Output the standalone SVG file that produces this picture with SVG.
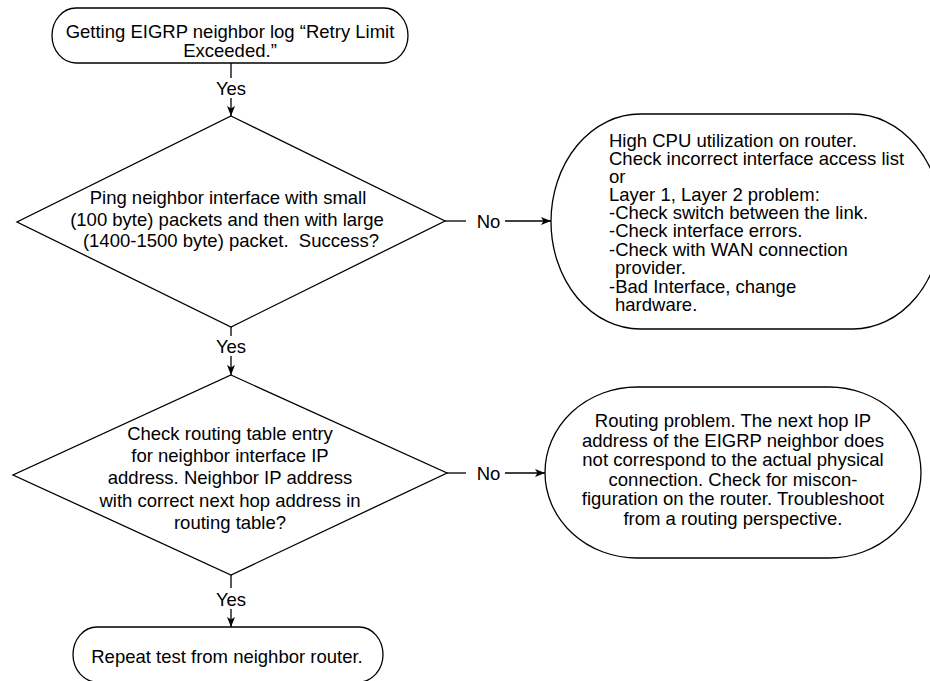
<svg xmlns="http://www.w3.org/2000/svg" width="930" height="681" viewBox="0 0 930 681">
<defs>
<marker id="arr" markerUnits="userSpaceOnUse" markerWidth="11" markerHeight="9" refX="10" refY="4" orient="auto">
<path d="M0,0 L10,4 L0,8 L2.5,4 z" fill="#000"/>
</marker>
<style>
.s{fill:#fff;stroke:#000;stroke-width:1.3}
.t{font-family:"Liberation Sans",Arial,Helvetica,sans-serif;font-size:18.5px;fill:#000}
.c{text-anchor:middle}
.l{fill:none;stroke:#000;stroke-width:1.3}
</style>
</defs>
<rect width="930" height="681" fill="#fff"/>
<g id="start">
<rect class="s" x="52" y="8" width="356" height="55" rx="24" ry="27.5"/>
<text class="t c" x="230" y="37.5">Getting EIGRP neighbor log “Retry Limit</text>
<text class="t c" x="230" y="56.5">Exceeded.”</text>
</g>
<g id="ping">
<polygon class="s" points="231,116 445,221 231,327 17,222"/>
<text class="t c" x="228" y="204">Ping neighbor interface with small</text>
<text class="t c" x="227" y="226">(100 byte) packets and then with large</text>
<text class="t c" x="231" y="247" xml:space="preserve">(1400-1500 byte) packet.  Success?</text>
</g>
<g id="cpu">
<rect class="s" x="551" y="114" width="391" height="215" rx="89" ry="107.5"/>
<text class="t" x="609" y="146.5">High CPU utilization on router.</text>
<text class="t" x="609" y="164.5">Check incorrect interface access list</text>
<text class="t" x="609" y="182.5">or</text>
<text class="t" x="609" y="200.5">Layer 1, Layer 2 problem:</text>
<text class="t" x="609" y="219">-Check switch between the link.</text>
<text class="t" x="609" y="237">-Check interface errors.</text>
<text class="t" x="609" y="255.5">-Check with WAN connection</text>
<text class="t" x="615" y="274">provider.</text>
<text class="t" x="609" y="292.5">-Bad Interface, change</text>
<text class="t" x="615" y="310.5">hardware.</text>
</g>
<g id="route">
<polygon class="s" points="231,375 447,473 231,575 13,475"/>
<text class="t c" x="230" y="439.5">Check routing table entry</text>
<text class="t c" x="230" y="461.5">for neighbor interface IP</text>
<text class="t c" x="230" y="484">address. Neighbor IP address</text>
<text class="t c" x="230" y="506.5">with correct next hop address in</text>
<text class="t c" x="230" y="528.5">routing table?</text>
</g>
<g id="routingproblem">
<rect class="s" x="545" y="387" width="376" height="171" rx="92" ry="85.5"/>
<text class="t c" x="733" y="427">Routing problem. The next hop IP</text>
<text class="t c" x="733" y="446.5">address of the EIGRP neighbor does</text>
<text class="t c" x="733" y="466">not correspond to the actual physical</text>
<text class="t c" x="733" y="485.5">connection. Check for miscon-</text>
<text class="t c" x="733" y="505">figuration on the router. Troubleshoot</text>
<text class="t c" x="733" y="524.5">from a routing perspective.</text>
</g>
<g id="repeat">
<rect class="s" x="73" y="627" width="310" height="55" rx="24" ry="27.5"/>
<text class="t c" x="227" y="662.5">Repeat test from neighbor router.</text>
</g>
<g id="connectors">
<line class="l" x1="231" y1="63" x2="231" y2="78"/>
<line class="l" x1="231" y1="98" x2="231" y2="116" marker-end="url(#arr)"/>
<text class="t c" x="231" y="95">Yes</text>
<line class="l" x1="231" y1="327" x2="231" y2="336"/>
<line class="l" x1="231" y1="356" x2="231" y2="375" marker-end="url(#arr)"/>
<text class="t c" x="231" y="352.5">Yes</text>
<line class="l" x1="231" y1="575" x2="231" y2="588"/>
<line class="l" x1="231" y1="609" x2="231" y2="627" marker-end="url(#arr)"/>
<text class="t c" x="231" y="606">Yes</text>
<line class="l" x1="445" y1="221" x2="466" y2="221"/>
<line class="l" x1="505" y1="221" x2="551" y2="221" marker-end="url(#arr)"/>
<text class="t c" x="488.5" y="227.5">No</text>
<line class="l" x1="447" y1="473" x2="466" y2="473"/>
<line class="l" x1="505" y1="473" x2="545" y2="473" marker-end="url(#arr)"/>
<text class="t c" x="488.5" y="479.5">No</text>
</g>
</svg>
